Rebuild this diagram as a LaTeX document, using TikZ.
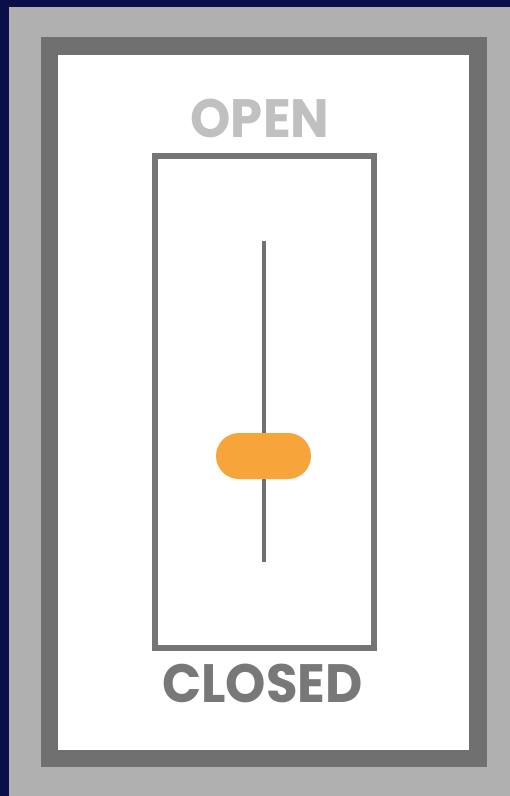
\documentclass[tikz,border=0pt]{standalone}
\usepackage{fontspec}
\setmainfont{Poppins}
\definecolor{navybg}{HTML}{0A0F4A}
\definecolor{lightframe}{HTML}{B0B0B0}
\definecolor{darkframe}{HTML}{707070}
\definecolor{boxline}{HTML}{757575}
\definecolor{opentxt}{HTML}{C0C0C0}
\definecolor{closedtxt}{HTML}{787878}
\definecolor{knob}{HTML}{F7A43A}
\tikzset{
  lbl/.style={font=\fontsize{54}{54}\selectfont\bfseries, inner sep=0pt, anchor=base, xscale=0.95, transform shape},
}
\begin{document}
\begin{tikzpicture}[x=1pt,y=-1pt]
\useasboundingbox (0,0) rectangle (510,796);
\fill[navybg] (0,0) rectangle (510,796);
\fill[lightframe] (9,7) rectangle (510,796);
\fill[darkframe] (41,37) rectangle (487,767);
\fill[white] (58,55) rectangle (469,750);
\node[lbl, text=opentxt] (open) at (260,137) {OPEN};
\node[lbl, text=closedtxt] (closed) at (262.5,702) {CLOSED};
\draw[boxline, line width=6pt] (155,156) rectangle (374,648);
\coordinate (top) at (264,241);
\coordinate (bot) at (264,562);
\draw[darkframe, line width=4pt] (top) -- (bot);
\node[fill=knob, rounded corners=23pt, minimum width=95pt, minimum height=46pt, inner sep=0pt] (handle) at (263.5,456) {};
\end{tikzpicture}
\end{document}
